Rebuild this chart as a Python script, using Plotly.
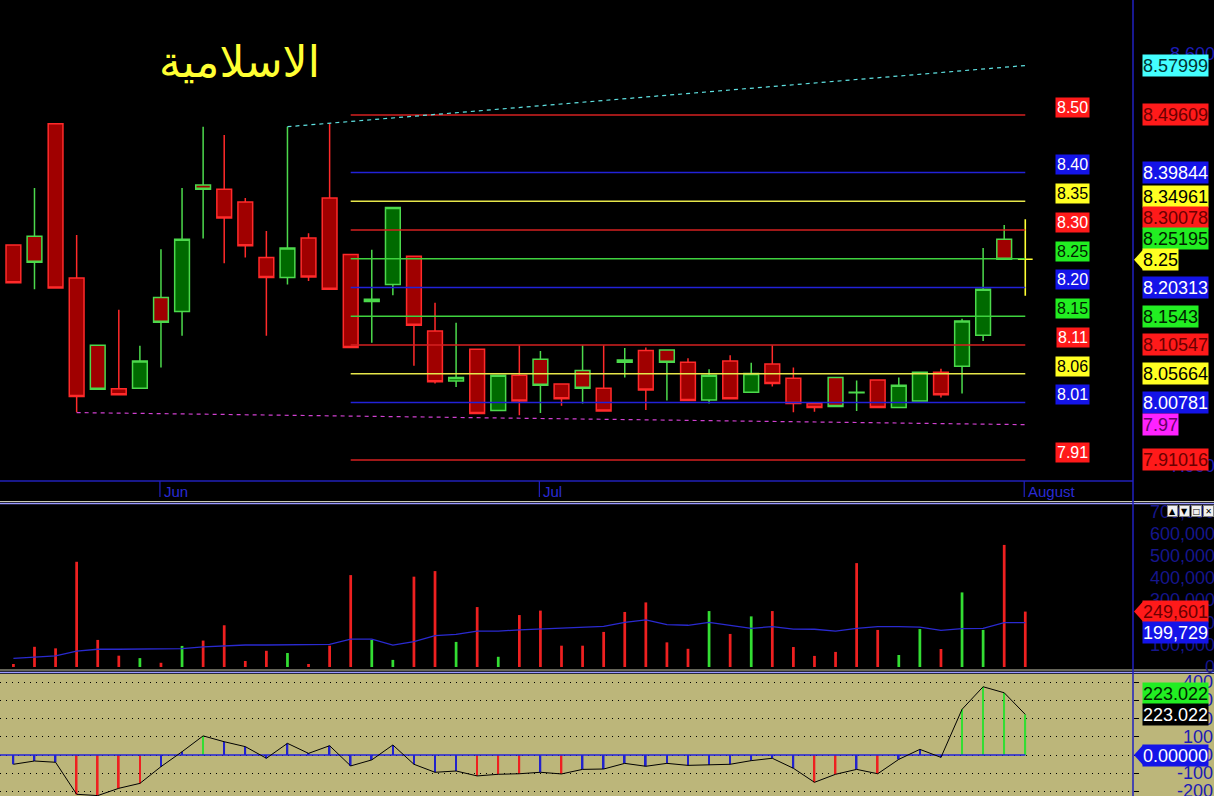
import plotly.graph_objects as go

W, H = 1214, 796

# ---------------- data ----------------
bar_index = list(range(49))
opens = [8.275, 8.290, 8.481, 8.219, 8.105, 8.031, 8.032, 8.186, 8.162, 8.377,
         8.370, 8.348, 8.254, 8.220, 8.287, 8.355, 8.259, 8.179, 8.208, 8.256,
         8.129, 8.044, 8.098, 7.994, 8.054, 8.081, 8.039, 8.062, 8.032, 8.080,
         8.096, 8.097, 8.076, 8.012, 8.078, 8.025, 8.073, 8.049, 8.006, 8.050,
         8.025, 8.046, 7.999, 8.010, 8.059, 8.069, 8.122, 8.285, 8.251]
highs = [8.275, 8.372, 8.481, 8.292, 8.105, 8.165, 8.104, 8.268, 8.372, 8.476,
         8.462, 8.355, 8.299, 8.476, 8.295, 8.482, 8.259, 8.267, 8.339, 8.256,
         8.177, 8.143, 8.098, 8.054, 8.105, 8.095, 8.039, 8.105, 8.105, 8.100,
         8.101, 8.097, 8.083, 8.064, 8.088, 8.075, 8.105, 8.067, 8.006, 8.050,
         8.045, 8.046, 8.050, 8.059, 8.065, 8.150, 8.270, 8.309, 8.319]
lows = [8.211, 8.200, 8.202, 7.991, 8.030, 8.021, 8.032, 8.067, 8.121, 8.286,
        8.244, 8.254, 8.121, 8.208, 8.214, 8.200, 8.101, 8.109, 8.190, 8.070,
        8.040, 8.034, 7.989, 7.994, 7.986, 7.990, 8.002, 8.006, 7.993, 8.050,
        7.995, 8.011, 8.011, 8.006, 8.014, 8.025, 8.035, 7.991, 7.992, 8.001,
        7.993, 7.999, 7.999, 8.010, 8.016, 8.023, 8.112, 8.250, 8.189]
closes = [8.211, 8.246, 8.202, 8.018, 8.030, 8.021, 8.078, 8.144, 8.285, 8.370,
          8.321, 8.274, 8.220, 8.270, 8.221, 8.200, 8.101, 8.183, 8.339, 8.139,
          8.043, 8.050, 7.989, 8.054, 8.010, 8.037, 8.014, 8.032, 7.993, 8.076,
          8.029, 8.076, 8.011, 8.054, 8.014, 8.057, 8.040, 8.006, 7.999, 8.001,
          8.024, 7.999, 8.037, 8.059, 8.021, 8.146, 8.200, 8.251, 8.251]
volumes = [13500, 91000, 84000, 474000, 122000, 51000, 40000, 19000, 95000, 119000,
           188000, 27000, 73000, 63000, 13500, 96000, 414000, 122000, 32000, 407000,
           432000, 113000, 270000, 46000, 234000, 254000, 96000, 96000, 158000, 248000,
           291000, 111000, 82000, 252000, 149000, 228000, 252000, 90000, 50000, 68000,
           468000, 167000, 54000, 171000, 81000, 336000, 167000, 550000, 249601]
volume_ma = [39000, 46000, 50000, 72000, 80000, 80000, 80000, 80000, 83000, 91000,
             95000, 99000, 99000, 99000, 99000, 102000, 126000, 126000, 99000, 114000,
             141000, 147000, 162000, 162000, 167000, 171000, 174000, 180000, 183000, 201000,
             212000, 191000, 188000, 201000, 186000, 174000, 182000, 171000, 170000, 162000,
             174000, 182000, 182000, 180000, 165000, 173000, 174000, 200000, 199729]
cci = [-51, -33, -40, -216, -223, -183, -156, -64, 18, 105,
       73, 46, -18, 64, 9, 51, -60, -27, 55, -51,
       -95, -88, -115, -106, -103, -95, -104, -79, -77, -46,
       -62, -46, -57, -53, -51, -31, -18, -73, -150, -106,
       -79, -103, -24, 31, -13, 251, 375, 342, 223.022]

month_ticks = [7, 25, 48]
month_labels = ["Jun", "Jul", "August"]

levels = [8.49609, 8.39844, 8.34961, 8.30078, 8.25195, 8.20313, 8.1543,
          8.10547, 8.05664, 8.00781, 7.91016]
level_labels = ["8.49609", "8.39844", "8.34961", "8.30078", "8.25195", "8.20313",
                "8.1543", "8.10547", "8.05664", "8.00781", "7.91016"]
level_kinds = ["red", "blue", "yellow", "red", "green", "blue", "green",
               "red", "yellow", "blue", "red"]
level_span = [16, 48]

upper_trend_x = [13, 48]
upper_trend_y = [8.4761, 8.57999]
lower_trend_x = [3, 48]
lower_trend_y = [7.9905, 7.97]
last_price = 8.25
last_price_label = "8.25"

price_ticks = [8.6, 7.9]
volume_ticks = [700000, 600000, 500000, 400000, 300000, 200000, 100000, 0]
cci_ticks = [400, 300, 200, 100, 0, -100, -200]
last_volume_ma_label = "199,729"
last_cci_label = "223.022"
zero_label = "0.00000"

title_text = "الاسلامية"
button_symbols = ["▲", "▼", "□", "✕"]

# ---------------- styles ----------------
XR = [-0.636, 53.11]
X_DOM = [0, 1133 / W]
MAIN_DOM = [1 - 481 / H, 1]
MAIN_RANGE = [7.8743, 8.6913]
VOL_DOM = [1 - 669 / H, 1 - 504 / H]
VOL_RANGE = [-9010, 734315]
CCI_DOM = [0, 1 - 674 / H]
CCI_RANGE = [-225.3, 445.1]

LINE_COL = {"red": "#d42020", "blue": "#2222d8", "yellow": "#e6e64a", "green": "#3ed23e"}
BG_COL = {"red": "#ff1a1a", "blue": "#1414e8", "yellow": "#ffff22", "green": "#22ee22",
          "cyan": "#44ffff", "magenta": "#ff22ff", "black": "#000000"}
TXT_RIGHT = {"red": "#6b0000", "blue": "#ffffff", "yellow": "#000000", "green": "#002200",
             "cyan": "#003333", "magenta": "#660066", "black": "#ffffff"}
TXT_INNER = {"red": "#ffffff", "blue": "#ffffff", "yellow": "#000000", "green": "#002200"}

UP_FILL, DOWN_FILL = "#006a00", "#a00000"
UP_LINE, DOWN_LINE = "#4cd94c", "#ff2a2a"
KHAKI = "#bcb67a"
AXIS_BLUE = "#1c1cb4"
RFONT = 18

fig = go.Figure()

# level lines
for lv, kind in zip(levels, level_kinds):
    fig.add_trace(go.Scatter(x=level_span, y=[lv, lv], mode="lines",
                             line=dict(color=LINE_COL[kind], width=1.5),
                             hoverinfo="skip", showlegend=False))
# trend lines
fig.add_trace(go.Scatter(x=upper_trend_x, y=upper_trend_y, mode="lines",
                         line=dict(color="#5ee0e0", width=1.2, dash="4px,4px"),
                         hoverinfo="skip", showlegend=False))
fig.add_trace(go.Scatter(x=lower_trend_x, y=lower_trend_y, mode="lines",
                         line=dict(color="#d040d0", width=1.2, dash="4px,4px"),
                         hoverinfo="skip", showlegend=False))

# candles: outline colour by close vs previous close, fill by close vs open
n = len(bar_index) - 1
green_out = [i for i in range(n) if i > 0 and closes[i] > closes[i - 1]]
red_out = [i for i in range(n) if not (i > 0 and closes[i] > closes[i - 1])]


def candle(idx, outline, up_fill, down_fill, width=1.5):
    return go.Candlestick(
        x=[bar_index[i] for i in idx], open=[opens[i] for i in idx],
        high=[highs[i] for i in idx], low=[lows[i] for i in idx],
        close=[closes[i] for i in idx],
        increasing=dict(line=dict(color=outline, width=width), fillcolor=up_fill),
        decreasing=dict(line=dict(color=outline, width=width), fillcolor=down_fill),
        whiskerwidth=0, hoverinfo="skip", showlegend=False,
        xaxis="x", yaxis="y")


fig.add_trace(candle(red_out, DOWN_LINE, UP_FILL, DOWN_FILL))
fig.add_trace(candle(green_out, UP_LINE, UP_FILL, DOWN_FILL))
fig.add_trace(candle([n], "#ffff33", "#ffff33", "#ffff33", width=1.6))

# volume
vol_colors = ["#33dd33" if closes[i] > opens[i] else "#ee2020" for i in bar_index]
fig.add_trace(go.Bar(x=bar_index, y=volumes, width=0.13, marker=dict(color=vol_colors, line=dict(width=0)),
                     yaxis="y2", hoverinfo="skip", showlegend=False))
fig.add_trace(go.Scatter(x=bar_index, y=volume_ma, mode="lines", line=dict(color="#2a2ad0", width=1.3),
                         yaxis="y2", hoverinfo="skip", showlegend=False))

# CCI
cci_colors = ["#33dd33" if v > 100 else ("#ee2020" if v < -100 else "#2222cc") for v in cci]
fig.add_trace(go.Bar(x=bar_index, y=cci, width=0.08, marker=dict(color=cci_colors, line=dict(width=0)),
                     yaxis="y3", hoverinfo="skip", showlegend=False))
fig.add_trace(go.Scatter(x=[XR[0], bar_index[-1]], y=[0, 0], mode="lines",
                         line=dict(color="#2222dd", width=1.6), yaxis="y3",
                         hoverinfo="skip", showlegend=False))
fig.add_trace(go.Scatter(x=bar_index, y=cci, mode="lines", line=dict(color="#000000", width=1),
                         yaxis="y3", hoverinfo="skip", showlegend=False))


# ---------------- shapes ----------------
def py(px):
    return 1 - px / H


shapes = [
    dict(type="rect", xref="paper", yref="paper", x0=0, x1=1, y0=0, y1=py(674),
         fillcolor=KHAKI, line=dict(width=0), layer="below"),
    dict(type="line", xref="paper", yref="paper", x0=0, x1=X_DOM[1], y0=py(481), y1=py(481),
         line=dict(color="#2020b8", width=1.5)),
    dict(type="line", xref="paper", yref="paper", x0=0, x1=1, y0=py(501.5), y1=py(501.5),
         line=dict(color="#c8c8b0", width=1.2)),
    dict(type="line", xref="paper", yref="paper", x0=0, x1=1, y0=py(503.5), y1=py(503.5),
         line=dict(color="#9a9aff", width=1.5)),
    dict(type="line", xref="paper", yref="paper", x0=0, x1=1, y0=py(670), y1=py(670),
         line=dict(color="#c8c8b0", width=1.2)),
    dict(type="line", xref="paper", yref="paper", x0=0, x1=1, y0=py(672.5), y1=py(672.5),
         line=dict(color="#9a9aff", width=1.5)),
    dict(type="line", xref="paper", yref="paper", x0=X_DOM[1], x1=X_DOM[1], y0=0, y1=1,
         line=dict(color="#2020c0", width=1.5)),
]
for t in month_ticks:
    shapes.append(dict(type="line", xref="x", yref="paper", x0=t - 0.05, x1=t - 0.05,
                       y0=py(481), y1=py(497), line=dict(color="#2020c0", width=1.2)))

annotations = []

# axis value texts (drawn first so boxes cover them)
for v in price_ticks:
    annotations.append(dict(x=1, xref="paper", y=v, yref="y", xanchor="right", yanchor="middle",
                            xshift=3, text=f"{v:.3f}", showarrow=False,
                            font=dict(family="Arial", size=RFONT, color=AXIS_BLUE)))
for v in volume_ticks:
    annotations.append(dict(x=1, xref="paper", y=v, yref="y2", xanchor="right", yanchor="middle",
                            xshift=3, text=f"{v:,}", showarrow=False,
                            font=dict(family="Arial", size=RFONT, color="#16168c")))
for v in cci_ticks:
    annotations.append(dict(x=1, xref="paper", y=v, yref="y3", xanchor="right", yanchor="middle",
                            xshift=1, text=f"{v}", showarrow=False,
                            font=dict(family="Arial", size=RFONT, color=AXIS_BLUE)))

# month labels
for t, lab in zip(month_ticks, month_labels):
    annotations.append(dict(x=t, xref="x", y=py(491), yref="paper", xanchor="left", yanchor="middle",
                            xshift=1, text=lab, showarrow=False,
                            font=dict(family="Arial", size=15, color="#2a2ad4")))

# title
annotations.append(dict(x=239 / W, xref="paper", y=py(62), yref="paper", text=title_text,
                        showarrow=False, xanchor="center", yanchor="middle",
                        font=dict(family="DejaVu Sans", size=44, color="#ffff33")))

# inner level labels
for lv, kind in zip(levels, level_kinds):
    annotations.append(dict(x=1072.5 / W, xref="paper", y=lv, yref="y", yshift=7.5,
                            xanchor="center", yanchor="middle", text=f"{lv:.2f}", showarrow=False,
                            bgcolor=BG_COL[kind], borderpad=1,
                            font=dict(family="Arial", size=16, color=TXT_INNER[kind])))


# right-side value labels with simple collision avoidance
def px_of(v, rng, dom):
    frac = (v - rng[0]) / (rng[1] - rng[0])
    paper = dom[0] + frac * (dom[1] - dom[0])
    return (1 - paper) * H


def stack(items, anchor, rng, dom, h=21):
    pos = [px_of(it[1], rng, dom) for it in items]
    out = pos[:]
    for i in range(anchor - 1, -1, -1):
        out[i] = min(pos[i], out[i + 1] - h)
    for i in range(anchor + 1, len(items)):
        out[i] = max(pos[i], out[i - 1] + h)
    return [p - q for p, q in zip(pos, out)]


def value_label(lab, v, yref, s, kind):
    return dict(x=1142 / W, xref="paper", y=v, yref=yref, yshift=s,
                xanchor="left", yanchor="middle", text=lab, showarrow=False,
                bgcolor=BG_COL[kind], borderpad=0, height=21,
                font=dict(family="Arial", size=RFONT, color=TXT_RIGHT[kind]))


main_items = [("8.57999", upper_trend_y[1], "cyan")]
main_items += [(lab, lv, kind) for lab, lv, kind in zip(level_labels, levels, level_kinds)]
main_items.append((last_price_label, last_price, "yellow"))
main_items.append(("7.97", lower_trend_y[1], "magenta"))
main_items.sort(key=lambda it: -it[1])
anchor_main = [i for i, it in enumerate(main_items) if it[0] == last_price_label][0]
shifts = stack(main_items, anchor_main, MAIN_RANGE, MAIN_DOM)
for (lab, v, kind), s in zip(main_items, shifts):
    annotations.append(value_label(lab, v, "y", s, kind))
shapes.append(dict(type="path", xref="paper", xsizemode="pixel", xanchor=1133 / W,
                   yref="y", ysizemode="pixel", yanchor=last_price,
                   path="M1,0 L10,10 L10,-10 Z", fillcolor=BG_COL["yellow"], line=dict(width=0)))

vol_items = [(f"{volumes[-1]:,}", volumes[-1], "red"), (last_volume_ma_label, volume_ma[-1], "blue")]
vshift = stack(vol_items, 0, VOL_RANGE, VOL_DOM)
for (lab, v, kind), s in zip(vol_items, vshift):
    annotations.append(value_label(lab, v, "y2", s, kind))
shapes.append(dict(type="path", xref="paper", xsizemode="pixel", xanchor=1133 / W,
                   yref="y2", ysizemode="pixel", yanchor=volumes[-1],
                   path="M1,0 L10,10 L10,-10 Z", fillcolor=BG_COL["red"], line=dict(width=0)))

cci_items = [(last_cci_label, cci[-1], "green"), (last_cci_label, cci[-1], "black"), (zero_label, 0, "blue")]
cshift = stack(cci_items, 1, CCI_RANGE, CCI_DOM)
for (lab, v, kind), s in zip(cci_items, cshift):
    annotations.append(value_label(lab, v, "y3", s, kind))
shapes.append(dict(type="path", xref="paper", xsizemode="pixel", xanchor=1133 / W,
                   yref="y3", ysizemode="pixel", yanchor=0,
                   path="M1,0 L10,10 L10,-10 Z", fillcolor=BG_COL["blue"], line=dict(width=0)))

# panel buttons drawn as boxed texts on top of the axis text
for k, sym in enumerate(button_symbols):
    x0 = 1167 + 12 * k
    annotations.append(dict(x=(x0 + 5.5) / W, xref="paper", y=py(511), yref="paper",
                            text=sym, showarrow=False, xanchor="center", yanchor="middle",
                            width=9, height=10, bgcolor="#f0f0f0", bordercolor="#808080",
                            borderwidth=1, borderpad=0,
                            font=dict(family="DejaVu Sans", size=8, color="#000000")))

fig.update_layout(
    width=W, height=H, margin=dict(l=0, r=0, t=0, b=0),
    paper_bgcolor="#000000", plot_bgcolor="rgba(0,0,0,0)",
    barmode="overlay", boxgap=0.3, boxgroupgap=0,
    showlegend=False, hovermode=False,
    xaxis=dict(domain=X_DOM, range=XR, showgrid=False, zeroline=False, showticklabels=False,
               ticks="", rangeslider=dict(visible=False), fixedrange=True),
    yaxis=dict(domain=MAIN_DOM, range=MAIN_RANGE, showgrid=False, zeroline=False,
               showticklabels=False, ticks="", anchor="x"),
    yaxis2=dict(domain=VOL_DOM, range=VOL_RANGE, showgrid=False, zeroline=False,
                showticklabels=False, ticks="", anchor="x"),
    yaxis3=dict(domain=CCI_DOM, range=CCI_RANGE, showgrid=True, gridcolor="#000000",
                griddash="1px,5px", gridwidth=1, tickvals=cci_ticks, zeroline=False,
                showticklabels=False, ticks="outside", ticklen=5, tickcolor="#000000",
                side="right", anchor="x"),
    shapes=shapes, annotations=annotations,
)

fig.write_html("out.html", config={"displayModeBar": False},
               post_script="document.body.style.margin='0px';document.body.style.background='#000';")
